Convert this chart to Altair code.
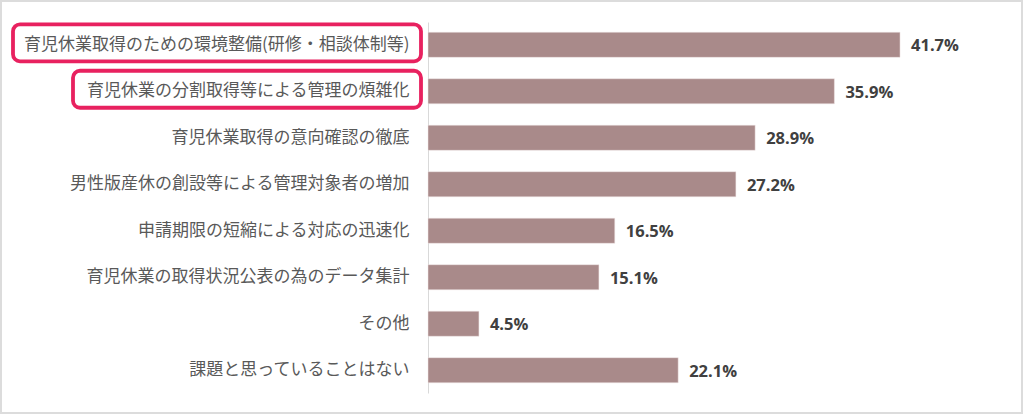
import altair as alt
import pandas as pd

categories = [
    "育児休業取得のための環境整備(研修・相談体制等)",
    "育児休業の分割取得等による管理の煩雑化",
    "育児休業取得の意向確認の徹底",
    "男性版産休の創設等による管理対象者の増加",
    "申請期限の短縮による対応の迅速化",
    "育児休業の取得状況公表の為のデータ集計",
    "その他",
    "課題と思っていることはない",
]
values = [41.7, 35.9, 28.9, 27.2, 16.5, 15.1, 4.5, 22.1]
highlight = [True, True, False, False, False, False, False, False]

df = pd.DataFrame({"cat": categories, "value": values, "hl": highlight})

y_enc = alt.Y(
    "cat:N",
    sort=categories,
    title=None,
    scale=alt.Scale(paddingInner=0.46, paddingOuter=0.22),
    axis=alt.Axis(
        labelFont="Noto Sans CJK JP",
        labelFontSize=17,
        labelColor="#595959",
        labelPadding=19,
        labelLimit=600,
        ticks=False,
        tickSize=0,
        domainColor="#d9d9d9",
        domainWidth=1,
        grid=False,
    ),
)
x_enc = alt.X("value:Q", scale=alt.Scale(domain=[0, 50]), axis=None)

base = alt.Chart(df)

bars = base.mark_bar(color="#a98a8a", stroke="#f0e6e6", strokeWidth=0.5).encode(y=y_enc, x=x_enc)

labels = base.transform_calculate(
    label="format(datum.value, '.1f') + '%'"
).mark_text(
    align="left", baseline="middle", dx=11, dy=1.5, font="Open Sans",
    fontSize=16.5, fontWeight="bold", color="#404040"
).encode(y=alt.Y("cat:N", sort=categories), x="value:Q", text="label:N")

box_style = dict(height=37, yOffset=-2, cornerRadius=7, fillOpacity=0,
                 stroke="#e8215f", strokeWidth=3.8)

box1 = base.transform_filter(alt.datum.cat == categories[0]).mark_bar(**box_style).encode(
    y=alt.Y("cat:N", sort=categories),
    x=alt.value(-415),
    x2=alt.value(-7),
)
box2 = base.transform_filter(alt.datum.cat == categories[1]).mark_bar(**box_style).encode(
    y=alt.Y("cat:N", sort=categories),
    x=alt.value(-355),
    x2=alt.value(-7),
)

border = base.transform_filter("datum.hl").mark_rect(
    fillOpacity=0, stroke="#dcdcdc", strokeWidth=2
).encode(
    x=alt.value(-427), x2=alt.value(594),
    y=alt.value(-21), y2=alt.value(391),
)

chart = alt.layer(border, bars, labels, box1, box2).properties(
    width=566, height=371, padding=0
).configure_view(stroke=None)

chart.save("out.html", embed_options={"renderer": "svg", "actions": False})
